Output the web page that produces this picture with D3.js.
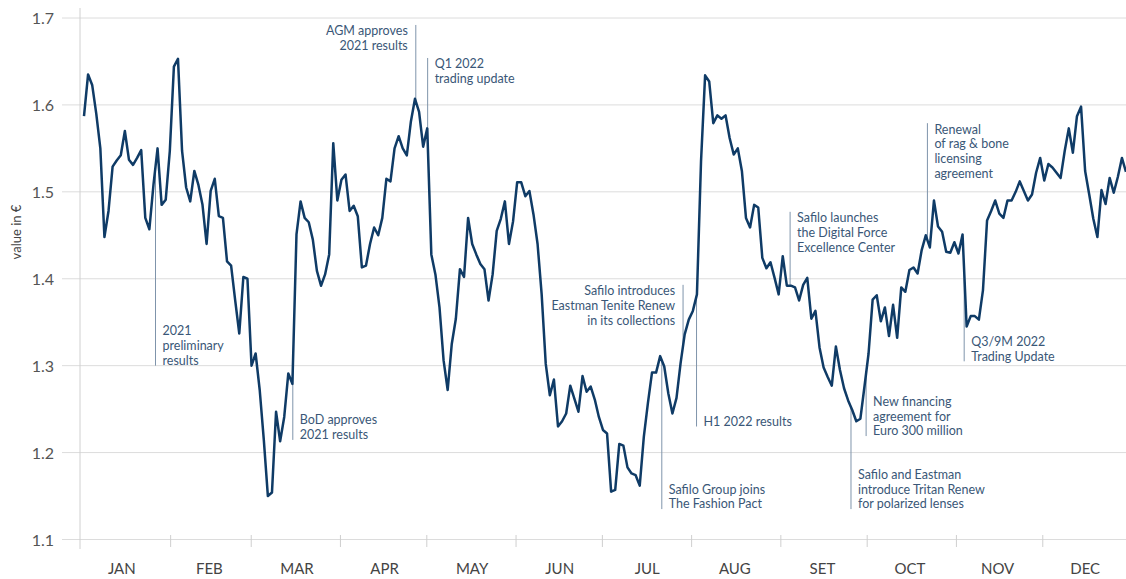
<!DOCTYPE html>
<html>
<head>
<meta charset="utf-8">
<script src="https://cdn.jsdelivr.net/npm/d3@7"></script>
<style>
  body { margin: 0; background: #fff; }
  svg { display: block; font-family: Lato, "Open Sans", sans-serif; }
  .grid line { stroke: #dcdcdc; stroke-width: 1; }
  .ylab { fill: #555; font-size: 16px; }
  .mlab { fill: #444; font-size: 15px; }
  .note { fill: #3a5777; font-size: 12.5px; }
  .noteLine { stroke: #7f94ab; stroke-width: 1; }
</style>
</head>
<body>
<script>
(function(){

// closing price per trading day, 2022 (value in €)
var prices = [
  1.587, 1.635, 1.623, 1.590, 1.550, 1.448, 1.478, 1.529, 1.536, 1.542,
  1.570, 1.537, 1.531, 1.539, 1.548, 1.470, 1.457, 1.508, 1.550, 1.485,
  1.491, 1.547, 1.644, 1.653, 1.547, 1.505, 1.489, 1.524, 1.508, 1.485,
  1.440, 1.501, 1.515, 1.472, 1.470, 1.420, 1.415, 1.375, 1.337, 1.402,
  1.400, 1.300, 1.314, 1.272, 1.215, 1.150, 1.154, 1.247, 1.213, 1.241,
  1.291, 1.279, 1.451, 1.489, 1.470, 1.465, 1.445, 1.409, 1.392, 1.405,
  1.428, 1.556, 1.490, 1.514, 1.520, 1.478, 1.484, 1.472, 1.413, 1.415,
  1.440, 1.459, 1.450, 1.470, 1.515, 1.512, 1.550, 1.564, 1.550, 1.542,
  1.581, 1.607, 1.592, 1.552, 1.573, 1.428, 1.405, 1.367, 1.306, 1.272,
  1.325, 1.354, 1.411, 1.402, 1.470, 1.440, 1.428, 1.417, 1.411, 1.375,
  1.405, 1.455, 1.469, 1.489, 1.440, 1.466, 1.511, 1.511, 1.495, 1.501,
  1.474, 1.440, 1.382, 1.302, 1.266, 1.284, 1.230, 1.236, 1.245, 1.277,
  1.262, 1.247, 1.288, 1.270, 1.276, 1.261, 1.241, 1.226, 1.222, 1.155,
  1.157, 1.210, 1.208, 1.183, 1.176, 1.174, 1.162, 1.218, 1.257, 1.292,
  1.292, 1.311, 1.299, 1.268, 1.245, 1.263, 1.303, 1.336, 1.353, 1.363,
  1.382, 1.535, 1.634, 1.627, 1.579, 1.588, 1.584, 1.588, 1.562, 1.543,
  1.550, 1.524, 1.470, 1.459, 1.485, 1.482, 1.424, 1.412, 1.419, 1.401,
  1.382, 1.426, 1.392, 1.392, 1.390, 1.375, 1.393, 1.401, 1.354, 1.363,
  1.321, 1.298, 1.287, 1.277, 1.322, 1.295, 1.274, 1.260, 1.249, 1.236,
  1.239, 1.276, 1.314, 1.376, 1.381, 1.351, 1.367, 1.334, 1.370, 1.332,
  1.390, 1.385, 1.410, 1.413, 1.406, 1.433, 1.450, 1.436, 1.490, 1.460,
  1.454, 1.431, 1.430, 1.442, 1.429, 1.451, 1.345, 1.357, 1.357, 1.353,
  1.387, 1.467, 1.478, 1.490, 1.475, 1.470, 1.490, 1.490, 1.500, 1.512,
  1.501, 1.490, 1.497, 1.522, 1.539, 1.513, 1.532, 1.528, 1.522, 1.516,
  1.547, 1.573, 1.545, 1.587, 1.598, 1.524, 1.497, 1.469, 1.448, 1.502,
  1.486, 1.516, 1.499, 1.517, 1.539, 1.523
];

var months = ["JAN", "FEB", "MAR", "APR", "MAY", "JUN", "JUL", "AUG", "SET", "OCT", "NOV", "DEC"];
var yTicks = [1.1, 1.2, 1.3, 1.4, 1.5, 1.6, 1.7];

// events: trading day index, label lines
var eventDay = [17.5, 51.1, 81.2, 84.1, 146.6, 149.9, 141.4, 172.8, 191.4, 187.7, 206.4, 215.4];
var eventText = [
  ["2021", "preliminary", "results"],
  ["BoD approves", "2021 results"],
  ["AGM approves", "2021 results"],
  ["Q1 2022", "trading update"],
  ["Safilo introduces", "Eastman Tenite Renew", "in its collections"],
  ["H1 2022 results"],
  ["Safilo Group joins", "The Fashion Pact"],
  ["Safilo launches", "the Digital Force", "Excellence Center"],
  ["New financing", "agreement for", "Euro 300 million"],
  ["Safilo and Eastman", "introduce Tritan Renew", "for polarized lenses"],
  ["Renewal", "of rag & bone", "licensing", "agreement"],
  ["Q3/9M 2022", "Trading Update"]
];
// value where each event's leader line ends
var eventEnd = [1.300, 1.2146, 1.692, 1.654, 1.393, 1.230, 1.135, 1.477, 1.219, 1.135, 1.579, 1.305];
var eventSide = ["right", "right", "left", "right", "left", "right", "right", "right", "right", "right", "right", "right"];

var width = 1126, height = 579;

var svg = d3.select("body").append("svg")
    .attr("width", width)
    .attr("height", height);

var yScale = d3.scaleLinear()
    .domain([1.1, 1.7])
    .range([539.5, 18]);

var xScale = d3.scaleLinear()
    .domain([0, prices.length - 1])
    .range([84, 1126]);

var timeScale = d3.scaleTime()
    .domain([new Date(2022, 0, 1), new Date(2023, 0, 1)])
    .range([81.4, 1132]);

var monthScale = d3.scaleBand()
    .domain(months)
    .range([78, 1129]);

//horizontal gridlines
svg.append("g").attr("class", "grid")
  .selectAll("line")
  .data(yTicks)
  .enter()
  .append("line")
    .attr("x1", 62)
    .attr("x2", width)
    .attr("y1", function(d){ return yScale(d); })
    .attr("y2", function(d){ return yScale(d); });

//y axis labels
var yAxis = d3.axisLeft(yScale)
    .tickValues(yTicks)
    .tickSize(0)
    .tickPadding(0)
    .tickFormat(d3.format(".1f"));

var yg = svg.append("g")
    .attr("transform", "translate(54,0)")
    .call(yAxis);
yg.select(".domain").remove();
yg.selectAll("text").attr("class", "ylab").attr("fill", null)
    .style("font-family", "Lato, sans-serif").attr("dy", "0.36em");

//vertical axis line
svg.append("line")
    .attr("x1", 80).attr("x2", 80)
    .attr("y1", 8).attr("y2", 549)
    .attr("stroke", "#d0d0d0");

//month boundary ticks
var monthStarts = d3.timeMonth.range(new Date(2022, 1, 1), new Date(2022, 11, 2));
svg.append("g")
  .selectAll("line")
  .data(monthStarts)
  .enter()
  .append("line")
    .attr("x1", function(d){ return timeScale(d); })
    .attr("x2", function(d){ return timeScale(d); })
    .attr("y1", 535)
    .attr("y2", 547)
    .attr("stroke", "#cfcfcf");

//month labels
svg.append("g")
  .selectAll("text")
  .data(months)
  .enter()
  .append("text")
    .attr("class", "mlab")
    .attr("text-anchor", "middle")
    .attr("x", function(d){ return monthScale(d) + monthScale.bandwidth() / 2; })
    .attr("y", 574)
    .text(function(d){ return d; });

//axis title
svg.append("text")
    .attr("transform", "translate(21,232) rotate(-90)")
    .attr("text-anchor", "middle")
    .attr("fill", "#444")
    .style("font-size", "13px")
    .text("value in €");

//value on the curve at a fractional day
function priceAt(t){
    var i = Math.floor(t), f = t - i;
    var a = prices[i], b = prices[Math.min(i + 1, prices.length - 1)];
    return a + (b - a) * f;
}

//event leader lines and labels
var lineH = 14.8;
eventDay.forEach(function(day, k){
    var x = xScale(day);
    var yCurve = yScale(priceAt(day));
    var yEnd = yScale(eventEnd[k]);
    svg.append("line")
        .attr("class", "noteLine")
        .attr("x1", x).attr("x2", x)
        .attr("y1", yCurve).attr("y2", yEnd);

    var lines = eventText[k];
    var above = yEnd < yCurve;
    var firstCenter = above ? yEnd + 6 : yEnd - 5 - (lines.length - 1) * lineH;
    var left = eventSide[k] == "left";
    svg.append("g")
      .selectAll("text")
      .data(lines)
      .enter()
      .append("text")
        .attr("class", "note")
        .attr("text-anchor", left ? "end" : "start")
        .attr("x", left ? x - 8 : x + 7)
        .attr("y", function(d, i){ return firstCenter + i * lineH; })
        .attr("dy", "0.35em")
        .text(function(d){ return d; });
});

//price line
var line = d3.line()
    .x(function(d, i){ return xScale(i); })
    .y(function(d){ return yScale(d); });

svg.append("path")
    .datum(prices)
    .attr("fill", "none")
    .attr("stroke", "#0f3b66")
    .attr("stroke-width", 2.5)
    .attr("stroke-linejoin", "round")
    .attr("d", line);

})();
</script>
</body>
</html>
